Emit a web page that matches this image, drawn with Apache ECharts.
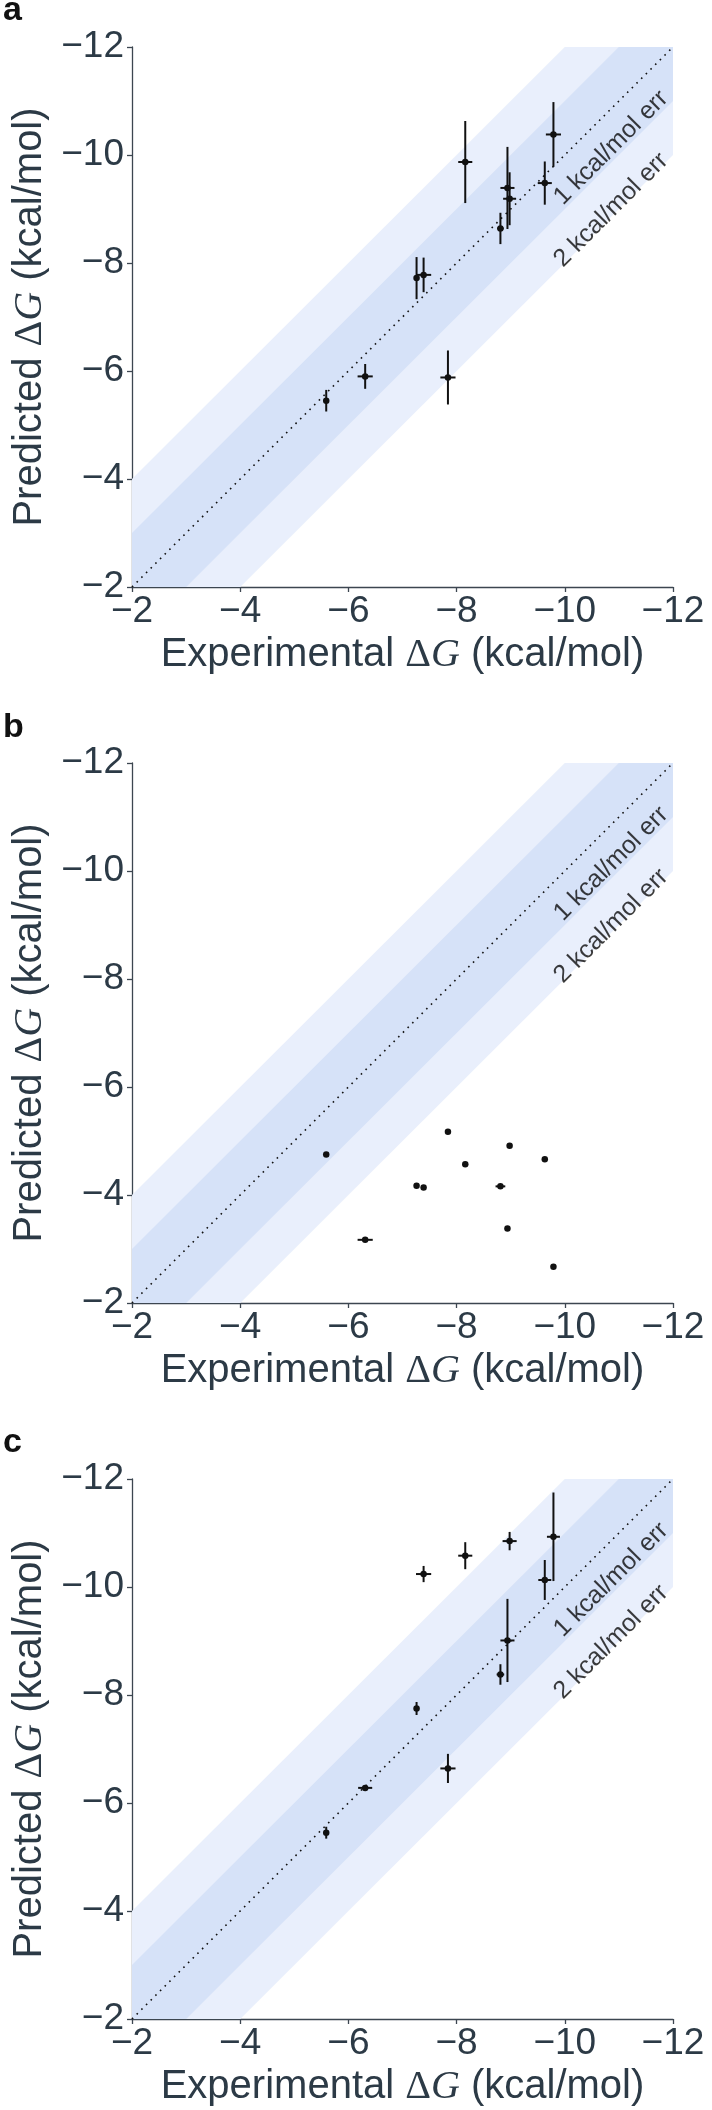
<!DOCTYPE html>
<html><head><meta charset="utf-8">
<script src="https://cdn.jsdelivr.net/npm/echarts@6/dist/echarts.min.js"></script>
<style>html,body{margin:0;padding:0;background:#fff}#c{width:712px;height:2110px}</style>
</head><body><div id="c"></div>
<script>
// ---- data ----
const panelLabels = ['a', 'b', 'c'];
const axisMin = -12, axisMax = -2, axisStep = 2;
const bandWidths = [2, 1];              // kcal/mol error bands (outer, inner)
const bandLabels = ['1 kcal/mol err', '2 kcal/mol err'];

// experimental dG (x) for the 11 compounds
const expDG = [-5.59, -6.31, -7.84, -7.26, -7.39, -8.16, -8.81, -8.94, -8.98, -9.63, -9.79];

// panel a
const predA    = [-5.45, -5.90, -5.88, -7.72, -7.78, -9.87, -8.64, -9.39, -9.19, -9.48, -10.38];
const predErrA = [0.20, 0.23, 0.50, 0.39, 0.32, 0.76, 0.29, 0.76, 0.49, 0.40, 0.60];
const expErrA  = [0, 0.14, 0.14, 0, 0.14, 0.13, 0.06, 0.13, 0.12, 0.13, 0.14];
// panel b
const predB    = [-4.75, -3.17, -5.17, -4.17, -4.14, -4.57, -4.16, -3.38, -4.91, -4.66, -2.67];
const predErrB = [0, 0, 0, 0, 0, 0, 0, 0, 0, 0, 0];
const expErrB  = [0, 0.14, 0, 0, 0, 0, 0.09, 0, 0, 0, 0];
// panel c
const predC    = [-5.45, -6.28, -6.64, -7.75, -10.24, -10.58, -8.38, -9.01, -10.85, -10.13, -10.93];
const predErrC = [0.11, 0.05, 0.27, 0.12, 0.15, 0.25, 0.19, 0.77, 0.17, 0.37, 0.82];
const expErrC  = [0, 0.13, 0.14, 0, 0.14, 0.13, 0.07, 0.13, 0.13, 0.12, 0.12];

const panels = [
  {pred: predA, predErr: predErrA, expErr: expErrA},
  {pred: predB, predErr: predErrB, expErr: expErrB},
  {pred: predC, predErr: predErrC, expErr: expErrC}
];

// ---- styling ----
const gridTops = [47, 763, 1479];
const TXT = '#2c3a46';
const AXC = '#3c4650';
const FONT = '"Liberation Sans", Arial, sans-serif';
const outerColor = 'rgb(233,239,252)';
const innerColor = 'rgb(214,226,248)';

function fmt(v) { return (v < 0 ? '\u2212' : '') + Math.abs(v); }

function renderBand(params, api) {
  const w = api.value(0);
  const lo = axisMax, hi = axisMin;
  const pts = [[lo, lo], [lo, lo - w], [hi + w, hi], [hi, hi], [hi, hi + w], [lo - w, lo]]
    .map(p => api.coord(p));
  return {type: 'polygon', shape: {points: pts}, style: {fill: api.visual('color')}};
}

function renderErr(params, api) {
  const x = api.value(0), y = api.value(1), xe = api.value(2), ye = api.value(3);
  const st = {stroke: '#111', lineWidth: 2};
  const ch = [];
  if (ye > 0) {
    const a = api.coord([x, y - ye]), b = api.coord([x, y + ye]);
    ch.push({type: 'line', shape: {x1: a[0], y1: a[1], x2: b[0], y2: b[1]}, style: st});
  }
  if (xe > 0) {
    const a = api.coord([x - xe, y]), b = api.coord([x + xe, y]);
    ch.push({type: 'line', shape: {x1: a[0], y1: a[1], x2: b[0], y2: b[1]}, style: st});
  }
  return {type: 'group', children: ch};
}

const grids = [], xAxes = [], yAxes = [], series = [], graphics = [];
const labelAnchors = [[axisMin, -10.95], [axisMin, -9.8]];

panels.forEach((p, i) => {
  grids.push({left: 132, top: gridTops[i], width: 541, height: 540});
  const axisCommon = {
    type: 'value', min: axisMin, max: axisMax, interval: axisStep, inverse: true,
    gridIndex: i, splitLine: {show: false},
    axisLine: {show: true, lineStyle: {color: AXC, width: 1.3}},
    axisTick: {show: true, length: 5, lineStyle: {color: AXC, width: 1.3}},
    axisLabel: {formatter: fmt, fontSize: 37, color: TXT, fontFamily: FONT},
    nameLocation: 'middle',
    nameTextStyle: {
      fontSize: 40, color: TXT, fontFamily: FONT,
      rich: {
        d: {fontSize: 40, color: TXT, fontFamily: '"Liberation Serif", serif'},
        g: {fontSize: 40, color: TXT, fontFamily: '"Liberation Serif", serif', fontStyle: 'italic'}
      }
    }
  };
  xAxes.push(Object.assign({}, axisCommon, {
    position: 'bottom', name: 'Experimental {d|Δ}{g|G} (kcal/mol)', nameGap: 48,
    axisLabel: Object.assign({}, axisCommon.axisLabel, {margin: 6})
  }));
  yAxes.push(Object.assign({}, axisCommon, {
    position: 'left', name: 'Predicted {d|Δ}{g|G} (kcal/mol)', nameGap: 80, nameRotate: 90,
    axisLabel: Object.assign({}, axisCommon.axisLabel, {margin: 8})
  }));

  bandWidths.forEach((w, k) => {
    series.push({
      type: 'custom', xAxisIndex: i, yAxisIndex: i, z: 1 + k,
      itemStyle: {color: k === 0 ? outerColor : innerColor},
      renderItem: renderBand, data: [[w]], silent: true
    });
  });
  series.push({
    type: 'line', xAxisIndex: i, yAxisIndex: i, z: 4, symbol: 'none', silent: true,
    data: [[axisMax, axisMax], [axisMin, axisMin]],
    lineStyle: {color: '#111', width: 1.6, type: [1.6, 5]}
  });
  series.push({
    type: 'custom', xAxisIndex: i, yAxisIndex: i, z: 5, renderItem: renderErr,
    data: expDG.map((x, j) => [x, p.pred[j], p.expErr[j], p.predErr[j]])
  });
  series.push({
    type: 'scatter', xAxisIndex: i, yAxisIndex: i, z: 6, symbolSize: 6.5,
    itemStyle: {color: '#111', opacity: 1},
    data: expDG.map((x, j) => [x, p.pred[j]])
  });
  bandLabels.forEach((t, k) => {
    series.push({
      type: 'scatter', xAxisIndex: i, yAxisIndex: i, z: 7, symbolSize: 1, silent: true,
      itemStyle: {color: 'rgba(0,0,0,0)'},
      label: {show: true, position: 'inside', formatter: t, rotate: 45, align: 'right',
        verticalAlign: 'bottom', fontSize: 25, color: '#0a0a0a', fontFamily: FONT},
      data: [labelAnchors[k]]
    });
  });
});

const labelTops = [-6, 711, 1426];
panelLabels.forEach((t, i) => {
  graphics.push({type: 'text', left: 3, top: labelTops[i],
    style: {text: t, font: 'bold 34px ' + FONT, fill: '#111'}});
});

const chart = echarts.init(document.getElementById('c'), null, {renderer: 'canvas'});
chart.setOption({
  animation: false,
  backgroundColor: '#fff',
  grid: grids, xAxis: xAxes, yAxis: yAxes, series: series, graphic: graphics
});
</script>
</body></html>
